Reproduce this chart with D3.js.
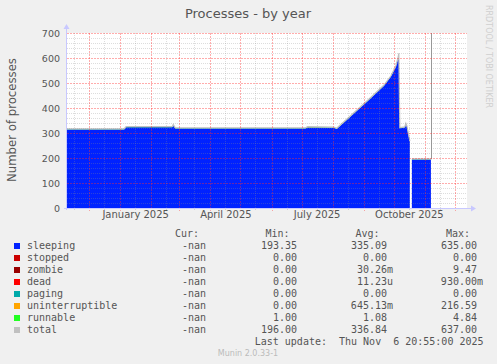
<!DOCTYPE html>
<html lang="en">
<head>
<meta charset="utf-8">
<title>Processes - by year</title>
<script src="https://d3js.org/d3.v7.min.js"></script>
<style>
  body { margin: 0; background: #f0f0f0; }
  svg { display: block; }
  text { fill: #555; }
  .major { stroke: #ff3030; stroke-opacity: 0.4; stroke-dasharray: 2 1; }
  .minor { stroke: #909090; stroke-opacity: 0.3; stroke-dasharray: 1 1; }
</style>
</head>
<body>
<script>
var dates = ["2024-11-09", "2025-01-05", "2025-01-07", "2025-02-22", "2025-02-23", "2025-02-25",
             "2025-07-05", "2025-07-07", "2025-08-02", "2025-08-05", "2025-08-20", "2025-09-05",
             "2025-09-21", "2025-09-28", "2025-10-03", "2025-10-05", "2025-10-06", "2025-10-07",
             "2025-10-12", "2025-10-13", "2025-10-14", "2025-10-17", "2025-10-18", "2025-10-19",
             "2025-11-07"];
var sleeping = [314, 314, 323, 323, 329, 318,
                318, 322, 321, 316, 370, 428,
                488, 525, 565, 595, 614, 319,
                322, 334, 326, 265, null, 194,
                194];
var uninterruptible = [0, 0, 0, 0, 1, 0,
                       0, 1, 0, 0, 0, 0,
                       0, 0, 0, 0, 1, 0,
                       0, 1, 0, 0, null, 0,
                       0];
var runnable = [1, 1, 1, 1, 2, 1,
                1, 1, 1, 1, 1, 1,
                1, 1, 1, 1, 2, 1,
                1, 2, 1, 1, null, 1,
                1];

var yTicks = [0, 100, 200, 300, 400, 500, 600, 700];
var xLabelDates = ["2025-01-16", "2025-04-16", "2025-07-16", "2025-10-16"];

// legend table
var legendNames = ["sleeping", "stopped", "zombie", "dead", "paging", "uninterruptible", "runnable", "total"];
var legendColors = ["#0022ff", "#cc0000", "#990000", "#ff0000", "#00aaaa", "#ffa500", "#22ff22", "#c0c0c0"];
var curVals = ["-nan", "-nan", "-nan", "-nan", "-nan", "-nan", "-nan", "-nan"];
var minVals = ["193.35", "0.00", "0.00", "0.00", "0.00", "0.00", "1.00", "196.00"];
var avgVals = ["335.09", "0.00", "30.26m", "11.23u", "0.00", "645.13m", "1.08", "336.84"];
var maxVals = ["635.00", "0.00", "9.47", "930.00m", "0.00", "216.59", "4.84", "637.00"];

var w = 497, h = 364;
var pl = 67, pr = 467, pt = 33, pb = 208;

var parse = d3.utcParse("%Y-%m-%d");
var start = parse("2024-11-09"), end = parse("2025-12-13");

var x = d3.scaleUtc().domain([start, end]).range([pl, pr]);
var y = d3.scaleLinear().domain([0, 700]).range([pb, pt]);

var svg = d3.select("body").append("svg")
    .attr("width", w)
    .attr("height", h);

svg.append("rect")
    .attr("x", pl).attr("y", pt)
    .attr("width", pr - pl).attr("height", pb - pt)
    .attr("fill", "#fff");

// build rows for the stack
var rows = dates.map(function(d, i) {
  return { date: parse(d), sleeping: sleeping[i], uninterruptible: uninterruptible[i],
           runnable: runnable[i], ok: sleeping[i] != null };
});

var stack = d3.stack().keys(["sleeping", "uninterruptible", "runnable"])
    .value(function(d, k) { return d.ok ? d[k] : 0; });
var series = stack(rows);

var area = d3.area()
    .defined(function(d) { return d.data.ok; })
    .x(function(d) { return x(d.data.date); })
    .y0(function(d) { return y(d[0]); })
    .y1(function(d) { return y(d[1]); });

var fills = { sleeping: "#0022ff", uninterruptible: "#ffa500", runnable: "#22ff22" };
svg.append("g").selectAll("path")
    .data(series)
    .enter().append("path")
    .attr("d", area)
    .attr("fill", function(s) { return fills[s.key]; });

// total line on top
var topSeries = series[series.length - 1];
var line = d3.line()
    .defined(function(d) { return d.data.ok; })
    .x(function(d) { return x(d.data.date); })
    .y(function(d) { return y(d[1]) - 0.5; });
svg.append("path")
    .datum(topSeries)
    .attr("d", line)
    .attr("fill", "none")
    .attr("stroke", "#c0c0c0")
    .attr("stroke-width", 1.2);

// end of data rule
var last = topSeries[topSeries.length - 1];
svg.append("line")
    .attr("x1", Math.round(x(last.data.date)) + 0.5)
    .attr("x2", Math.round(x(last.data.date)) + 0.5)
    .attr("y1", pt)
    .attr("y2", y(last[1]))
    .attr("stroke", "#999");

// grid, drawn over the data
var grid = svg.append("g");
d3.range(20, 701, 20).forEach(function(v) {
  grid.append("line")
      .attr("class", v % 100 === 0 ? "major" : "minor")
      .attr("x1", pl).attr("x2", pr)
      .attr("y1", Math.round(y(v)) + 0.5).attr("y2", Math.round(y(v)) + 0.5);
});
d3.utcMonth.range(d3.utcMonth.floor(start), end).forEach(function(m) {
  var mid = d3.utcDay.offset(m, 15);
  if (mid < start || mid > end) return;
  var xm = Math.round(x(mid)) + 0.5;
  grid.append("line")
      .attr("class", "minor")
      .attr("x1", xm).attr("x2", xm).attr("y1", pt).attr("y2", pb + 2);
});
d3.utcMonth.range(start, end).forEach(function(m) {
  var xm = Math.round(x(m)) + 0.5;
  grid.append("line")
      .attr("class", "major")
      .attr("x1", xm).attr("x2", xm).attr("y1", pt).attr("y2", pb + 3);
});

// axes lines with arrows
var axisCol = "#c8c8ff";
svg.append("line").attr("x1", pl - 0.5).attr("x2", pl - 0.5)
    .attr("y1", pb + 2).attr("y2", pt - 5).attr("stroke", axisCol);
svg.append("path").attr("d", "M" + (pl - 3.5) + "," + (pt - 4) + "L" + (pl - 0.5) + "," + (pt - 9) + "L" + (pl + 2.5) + "," + (pt - 4) + "Z")
    .attr("fill", axisCol);
svg.append("line").attr("x1", pl - 3).attr("x2", pr + 5)
    .attr("y1", pb + 0.5).attr("y2", pb + 0.5).attr("stroke", axisCol);
svg.append("path").attr("d", "M" + (pr + 4) + "," + (pb - 2.5) + "L" + (pr + 9) + "," + (pb + 0.5) + "L" + (pr + 4) + "," + (pb + 3.5) + "Z")
    .attr("fill", axisCol);

// y axis labels
var yAxis = svg.append("g")
    .attr("transform", "translate(" + (pl - 7) + ",0)")
    .call(d3.axisLeft(y).tickValues(yTicks).tickSize(0).tickPadding(0));
yAxis.select(".domain").remove();
yAxis.selectAll("text")
    .style("font-family", "DejaVu Sans")
    .style("font-size", "9.5px")
    .style("fill", "#555");

// x axis labels
var xAxis = svg.append("g")
    .attr("transform", "translate(0," + (pb + 3) + ")")
    .call(d3.axisBottom(x).tickValues(xLabelDates.map(parse))
          .tickFormat(d3.utcFormat("%B %Y")).tickSize(0).tickPadding(0));
xAxis.select(".domain").remove();
xAxis.selectAll("text")
    .style("font-family", "DejaVu Sans")
    .style("font-size", "10px")
    .style("fill", "#555");

// titles
svg.append("text")
    .attr("x", 248).attr("y", 18)
    .attr("text-anchor", "middle")
    .style("font-family", "DejaVu Sans")
    .style("font-size", "13px")
    .text("Processes - by year");

svg.append("text")
    .attr("transform", "translate(16,120) rotate(-90)")
    .attr("text-anchor", "middle")
    .style("font-family", "DejaVu Sans")
    .style("font-size", "11.7px")
    .text("Number of processes");

svg.append("text")
    .attr("transform", "translate(486,5) rotate(90)")
    .style("font-family", "DejaVu Sans")
    .style("font-size", "8px")
    .style("fill", "#cfcfcf")
    .text("RRDTOOL / TOBI OETIKER");

// legend
var mono = "DejaVu Sans Mono";
var cw = 6.02;
var leg = svg.append("g").style("font-family", mono).style("font-size", "10px");
var headers = [["Cur:", 199], ["Min:", 289.5], ["Avg:", 379.5], ["Max:", 470]];
headers.forEach(function(hd) {
  leg.append("text").attr("x", hd[1]).attr("y", 233.5)
      .attr("dy", "0.35em").attr("text-anchor", "end").text(hd[0]);
});
var cols = [[curVals, 206], [minVals, 297], [avgVals, 387], [maxVals, 477]];
legendNames.forEach(function(name, i) {
  var yc = 245.7 + i * 12;
  leg.append("rect")
      .attr("x", 14).attr("y", Math.round(yc) - 3)
      .attr("width", 6).attr("height", 6)
      .attr("fill", legendColors[i]);
  leg.append("text").attr("x", 27).attr("y", yc).attr("dy", "0.35em").text(name);
  cols.forEach(function(c) {
    var v = c[0][i];
    var suffix = /[a-z]$/.test(v) && v !== "-nan";
    leg.append("text")
        .attr("x", c[1] + (suffix ? cw : 0))
        .attr("y", yc).attr("dy", "0.35em")
        .attr("text-anchor", "end")
        .text(v);
  });
});
leg.append("text").attr("x", 483.5).attr("y", 341.5).attr("dy", "0.35em")
    .attr("text-anchor", "end")
    .style("white-space", "pre")
    .text("Last update:  Thu Nov  6 20:55:00 2025");

svg.append("text")
    .attr("x", 248).attr("y", 356)
    .attr("text-anchor", "middle")
    .style("font-family", "DejaVu Sans")
    .style("font-size", "8px")
    .style("fill", "#bbb")
    .text("Munin 2.0.33-1");
</script>
</body>
</html>
